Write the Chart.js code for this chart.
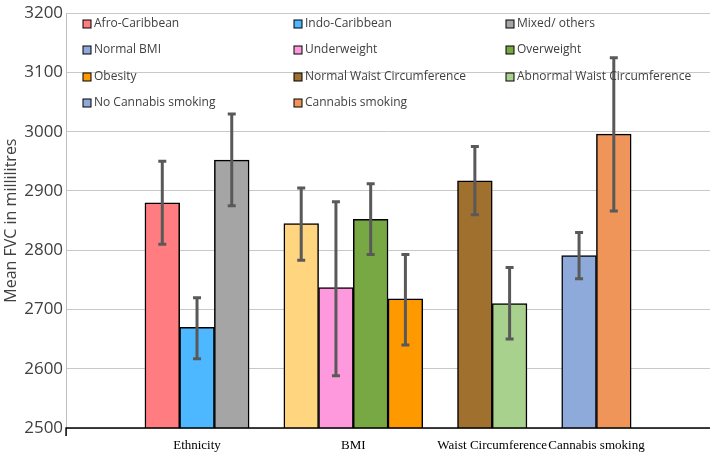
<!DOCTYPE html>
<html><head><meta charset="utf-8">
<script src="https://cdn.jsdelivr.net/npm/chart.js@4"></script>
<style>html,body{margin:0;padding:0;background:#fff}#w{width:710px;height:453px}</style>
</head><body><div id="w"><canvas id="c"></canvas></div>
<script>
const seriesNames = ['Afro-Caribbean','Indo-Caribbean','Mixed/ others','Normal BMI','Underweight','Overweight','Obesity','Normal Waist Circumference','Abnormal Waist Circumference','No Cannabis smoking','Cannabis smoking'];
const slots = [0,1,2,4,5,6,7,9,10,12,13];
const means = [2880,2670,2952,2845,2737,2852,2718,2917,2710,2791,2996];
const errLow = [2810,2617,2875,2783,2588,2793,2640,2860,2650,2752,2866];
const errHigh = [2950,2720,3030,2905,2882,2912,2793,2975,2771,2830,3125];
const barColors = ['#ff7c80','#4db8ff','#a5a5a5','#ffd580','#ff99dd','#77a844','#ff9900','#a0702e','#a9d18e','#8eaadb','#f0955a'];
const legendColors = ['#ff7c80','#4db8ff','#a5a5a5','#8eaadb','#ff99dd','#77a844','#ff9900','#a0702e','#a9d18e','#8eaadb','#f0955a'];
const groupNames = ['Ethnicity','BMI','Waist Circumference','Cannabis smoking'];
const groupFirst = [0,4,9,12];
const groupLast = [2,7,10,13];
const yTicks = [2500,2600,2700,2800,2900,3000,3100,3200];

const datasets = seriesNames.map((n,i)=>({
  label:n, data:[{x:slots[i], y:means[i]}], backgroundColor:barColors[i],
  borderColor:'#000', borderWidth:1.5, categoryPercentage:1, barPercentage:1, grouped:false
}));

const extras = {
  id:'extras',
  afterDatasetsDraw(chart){
    const ctx=chart.ctx, xs=chart.scales.x, ys=chart.scales.y;
    ctx.save();
    ctx.strokeStyle='#595959'; ctx.lineWidth=3;
    slots.forEach((s,i)=>{
      const x=xs.getPixelForValue(s), y1=ys.getPixelForValue(errLow[i]), y2=ys.getPixelForValue(errHigh[i]);
      ctx.beginPath(); ctx.moveTo(x,y1); ctx.lineTo(x,y2);
      ctx.moveTo(x-4,y1); ctx.lineTo(x+4,y1); ctx.moveTo(x-4,y2); ctx.lineTo(x+4,y2); ctx.stroke();
    });
    const yb=ys.getPixelForValue(2500);
    ctx.strokeStyle='#000'; ctx.lineWidth=1.5;
    ctx.beginPath(); ctx.moveTo(chart.chartArea.left,yb+8); ctx.lineTo(chart.chartArea.left,yb); ctx.lineTo(chart.chartArea.right,yb); ctx.stroke();
    ctx.fillStyle='#000'; ctx.font='13px "Liberation Serif"'; ctx.textAlign='center'; ctx.textBaseline='middle';
    groupNames.forEach((g,i)=>{
      const x=(xs.getPixelForValue(groupFirst[i])+xs.getPixelForValue(groupLast[i]))/2;
      ctx.fillText(g,x,yb+18);
    });
    const colX=[83,294,506], rowY=[24,50,77,103];
    ctx.font='12px "Open Sans"'; ctx.textAlign='left';
    seriesNames.forEach((n,i)=>{
      const x=colX[i%3], y=rowY[Math.floor(i/3)];
      ctx.fillStyle=legendColors[i]; ctx.fillRect(x,y-4,8,8);
      ctx.strokeStyle='#000'; ctx.lineWidth=1; ctx.strokeRect(x,y-4,8,8);
      ctx.fillStyle='#404040'; ctx.fillText(n,x+11,y);
    });
    ctx.restore();
  }
};

new Chart(document.getElementById('c'),{
  type:'bar',
  data:{datasets},
  options:{
    responsive:true, maintainAspectRatio:false, animation:false,
    layout:{padding:{top:4,right:0,bottom:25,left:2}},
    plugins:{legend:{display:false},tooltip:{enabled:false}},
    scales:{
      x:{type:'linear', min:-1.74, max:14.74, display:false},
      y:{min:2500,max:3200,
        afterBuildTicks(s){s.ticks=yTicks.map(v=>({value:v}));},
        ticks:{color:'#404040',font:{family:'Open Sans',size:17},padding:3,callback:v=>String(v)},
        grid:{color:'#c8c8c8',drawTicks:false},
        border:{display:true,color:'#bfbfbf'},
        title:{display:true,text:'Mean FVC in millilitres',color:'#404040',font:{family:'Open Sans',size:16},padding:0}
      }
    }
  },
  plugins:[extras]
});
</script></body></html>
